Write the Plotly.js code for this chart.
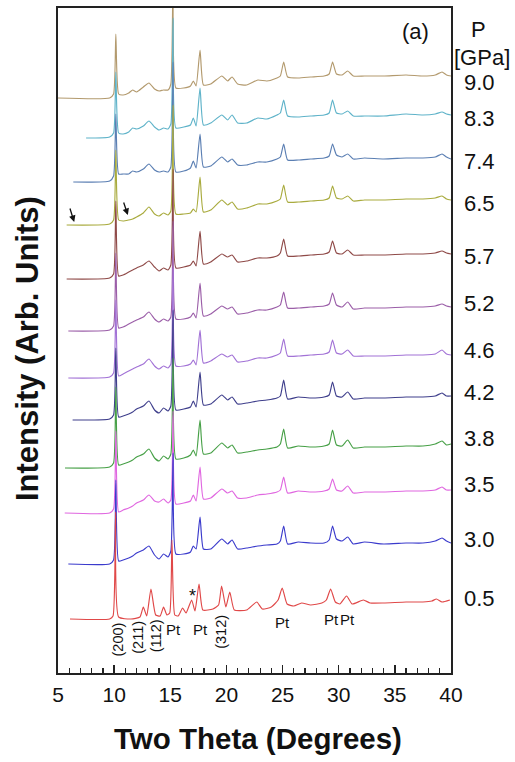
<!DOCTYPE html>
<html>
<head>
<meta charset="utf-8">
<script src="https://cdn.plot.ly/plotly-3.0.1.min.js"></script>
<style>html,body{margin:0;padding:0;background:#fff;}#chart{width:515px;height:762px;}</style>
</head>
<body>
<div id="chart"></div>
<script>
// Shared 2θ grid (degrees) for the high-pressure patterns
const twoTheta = [9.6, 9.95, 10.15, 10.4, 10.8, 11.3, 11.65, 12.0, 12.6, 13.1, 13.6, 14.0, 14.4, 14.8, 15.05, 15.25, 15.5, 16.2, 16.8, 17.05, 17.3, 17.65, 17.95, 18.6, 19.6, 20.1, 20.5, 21.0, 21.8, 22.8, 23.6, 24.5, 24.8, 25.1, 25.45, 26.4, 27.5, 28.7, 29.15, 29.45, 29.8, 30.3, 30.8, 31.3, 32.3, 34.0, 36.0, 37.5, 38.6, 39.2, 39.6, 40.0];

const pressures = ['9.0', '8.3', '7.4', '6.5', '5.7', '5.2', '4.6', '4.2', '3.8', '3.5', '3.0'];
const startAngles = [5.0, 7.5, 6.36, 5.77, 5.77, 5.92, 5.92, 6.3, 5.62, 5.6, 5.92];
const offsets = [575, 535, 491, 448, 394, 342, 295, 253, 205, 160, 109];

const int_9_0 = [0,4,64,4,3,5,8,6,11,15,9,7,8,8,14,130,10,10,12,17,12,48,13,14,22,17,21,14,13,18,17,20,22,36,21,20,21,22,24,36,24,23,27,22,22,22,23,22,23,26,23,22];
const int_8_3 = [1,5,66,5,4,6,10,9,12,17,11,8,10,9,14,120,10,11,13,20,12,50,13,15,23,18,23,15,15,20,19,23,25,38,22,21,22,23,25,38,25,24,27,22,22,22,24,23,24,26,24,23];
const int_7_4 = [1,6,68,8,8,8,11,10,13,18,12,10,11,10,15,120,10,11,14,21,14,48,15,16,25,20,23,17,17,20,20,23,25,38,22,22,23,24,26,38,27,25,28,23,24,23,24,24,25,28,25,23];
const int_6_5 = [1,5,75,5,4,5,6,8,12,18,11,9,12,10,14,120,11,11,12,16,13,48,13,15,25,20,23,16,17,21,21,24,26,40,23,23,24,25,27,39,27,26,29,24,25,25,26,26,27,29,26,25];
const int_5_7 = [1,5,78,3,4,7,9,11,14,18,12,8,11,9,14,110,11,12,14,18,13,48,15,17,25,22,24,17,18,21,21,23,26,40,23,23,24,25,27,38,26,25,29,24,24,24,25,25,26,28,26,25];
const int_5_2 = [1,5,78,3,4,7,9,11,14,19,12,9,12,10,14,110,12,12,14,18,13,48,15,17,25,22,24,17,18,21,21,24,26,39,23,23,24,25,27,38,26,24,29,22,23,23,24,24,25,27,25,24];
const int_4_6 = [1,5,78,2,4,7,9,11,14,19,12,9,12,10,14,110,12,12,14,18,13,48,15,17,24,21,23,16,17,20,20,23,25,39,22,22,23,24,26,38,25,24,28,22,22,22,23,23,24,28,24,23];
const int_4_2 = [1,5,72,3,4,6,8,11,14,19,10,7,12,9,14,110,10,11,13,19,13,48,15,16,25,20,23,16,17,19,20,22,24,40,21,23,22,23,25,38,24,23,28,21,22,22,23,23,24,27,24,24];
const int_3_8 = [1,5,81,3,4,6,8,11,14,19,10,7,12,9,14,110,9,10,13,18,12,48,14,15,25,20,23,15,16,18,19,21,24,39,20,22,21,22,24,38,23,22,28,20,21,21,22,22,24,27,23,24];
const int_3_5 = [0,4,82,1,3,5,7,10,13,18,12,11,14,10,13,102,9,10,12,18,12,46,14,15,24,20,22,15,15,18,19,21,23,36,20,22,21,22,24,34,23,22,27,20,21,21,22,22,23,26,23,23];
const int_3_0 = [0,4,84,3,4,6,8,11,14,18,9,5,10,7,13,111,10,10,12,18,15,47,15,15,25,20,24,15,16,18,19,20,23,38,20,22,21,21,24,38,25,23,27,20,22,20,21,21,23,26,23,21];
const highIntensities = [int_9_0, int_8_3, int_7_4, int_6_5, int_5_7, int_5_2, int_4_6, int_4_2, int_3_8, int_3_5, int_3_0];

// 0.5 GPa pattern (own grid)
const twoTheta_0_5 = [6.07, 9.6, 9.9, 10.13, 10.4, 11.5, 12.3, 12.6, 12.9, 13.28, 13.7, 14.1, 14.4, 14.7, 14.95, 15.15, 15.4, 15.7, 16.1, 16.4, 16.9, 17.2, 17.56, 17.9, 18.8, 19.3, 19.57, 19.95, 20.3, 20.7, 21.8, 22.7, 23.2, 24.0, 24.6, 24.97, 25.4, 26.0, 26.7, 27.5, 28.5, 28.9, 29.28, 29.7, 30.1, 30.7, 31.2, 32.2, 32.8, 34.0, 36.0, 37.5, 38.3, 38.7, 39.2, 39.9];
const int_0_5 = [0, 0, 3, 107, 2, 0, 2, 12, 3, 30, 4, 3, 12, 4, 6, 79, 4, 3, 11, 6, 19, 8, 35, 9, 10, 14, 33, 12, 27, 9, 9, 17, 10, 12, 19, 31, 15, 13, 16, 14, 16, 19, 30, 17, 15, 23, 15, 19, 16, 16, 17, 17, 18, 20, 17, 19];
const pressure_0_5 = '0.5';
const offset_0_5 = 54;

const colors = ['#b39a6e', '#5fb3c9', '#5b7fb3', '#a9ab3e', '#8f4a48', '#9b5ea8', '#a272d6', '#3f3f8c', '#47a047', '#e067e0', '#3b3bcc', '#e04848'];

// Peak annotations
const hklLabels = ['(200)', '(211)', '(112)', '(312)'];
const hklAngles = [10.3, 12.1, 13.75, 19.5];
const ptAngles = [15.3, 17.7, 25.0, 29.4, 30.75];

const FONT = 'Liberation Sans, Arial, Helvetica, sans-serif';

// ---- layout helpers (pixel geometry of the plot frame) ----
const PLOT_TOP = 8, PLOT_H = 665, PLOT_L = 58, PLOT_W = 393;
const py = p => (PLOT_TOP + PLOT_H - p) / PLOT_H;   // pixel row -> paper y
const px = p => (p - PLOT_L) / PLOT_W;              // pixel col -> paper x
// label rows for the pressure column (layout, not data)
const pressureLabelRows = [82, 117, 161, 202, 255, 302, 349, 392, 437, 483, 538, 597];

const traces = [];
const annotations = [];
const allPressures = pressures.concat([pressure_0_5]);

highIntensities.forEach((ints, i) => {
  const x = [startAngles[i]].concat(twoTheta);
  const y = [0].concat(ints).map(v => v + offsets[i]);
  traces.push({x, y, type: 'scatter', mode: 'lines', name: pressures[i] + ' GPa',
    line: {color: colors[i], width: 1.15, shape: 'spline', smoothing: 0.5}, hoverinfo: 'x+name'});
});
traces.push({x: twoTheta_0_5, y: int_0_5.map(v => v + offset_0_5), type: 'scatter', mode: 'lines',
  name: pressure_0_5 + ' GPa', line: {color: colors[11], width: 1.15, shape: 'spline', smoothing: 0.5}, hoverinfo: 'x+name'});

allPressures.forEach((p, i) => {
  annotations.push({xref: 'paper', x: px(479), yref: 'paper', y: py(pressureLabelRows[i]), yshift: -1, text: p,
    showarrow: false, xanchor: 'center', yanchor: 'middle', font: {family: FONT, size: 22, color: '#111'}});
});

annotations.push({xref: 'paper', x: px(478.5), yref: 'paper', y: py(25), yshift: -4, text: 'P', showarrow: false,
  xanchor: 'center', yanchor: 'middle', font: {family: FONT, size: 22, color: '#111'}});
annotations.push({xref: 'paper', x: px(481.5), yref: 'paper', y: py(55), yshift: -2, text: '[GPa]', showarrow: false,
  xanchor: 'center', yanchor: 'middle', font: {family: FONT, size: 22, color: '#111'}});
annotations.push({xref: 'paper', x: px(415), yref: 'paper', y: py(32), text: '(a)', showarrow: false,
  xanchor: 'center', yanchor: 'middle', font: {family: FONT, size: 22, color: '#111'}});

// axis titles
annotations.push({xref: 'paper', x: px(258), yref: 'paper', y: py(738), text: '<b>Two Theta (Degrees)</b>', showarrow: false,
  xanchor: 'center', yanchor: 'middle', font: {family: FONT, size: 29.5, color: '#111'}});
annotations.push({xref: 'paper', x: px(27.5), yref: 'paper', y: py(348.5), text: '<b>Intensity (Arb. Units)</b>', showarrow: false,
  textangle: -90, xanchor: 'center', yanchor: 'middle', font: {family: FONT, size: 31, color: '#111'}});

const hklY = [33, 36, 37, 41];
hklLabels.forEach((t, i) => {
  annotations.push({xref: 'x', x: hklAngles[i], yref: 'y', y: hklY[i], text: t, textangle: -90,
    showarrow: false, xanchor: 'center', yanchor: 'middle', font: {family: FONT, size: 14.5, color: '#111'}});
});
const ptY = [46, 46, 53, 56, 56];
ptAngles.forEach((a, i) => {
  annotations.push({xref: 'x', x: a, yref: 'y', y: ptY[i], yshift: -2, text: 'Pt', showarrow: false,
    xanchor: 'center', yanchor: 'middle', font: {family: FONT, size: 15, color: '#111'}});
});
annotations.push({xref: 'x', x: 17.0, yref: 'y', y: 77, text: '*', showarrow: false,
  xanchor: 'center', yanchor: 'middle', font: {family: FONT, size: 18, color: '#111'}});

// arrows on the 6.5 GPa pattern
annotations.push({xref: 'x', x: startAngles[3] + 0.7, yref: 'y', y: offsets[3] + 2, text: '', showarrow: true,
  arrowhead: 2, arrowsize: 1, arrowwidth: 1.3, arrowcolor: '#111', ax: -5, ay: -16, standoff: 1});
annotations.push({xref: 'x', x: twoTheta[5] - 0.05, yref: 'y', y: offsets[3] + int_6_5[5] + 4, text: '', showarrow: true,
  arrowhead: 2, arrowsize: 1, arrowwidth: 1.3, arrowcolor: '#111', ax: -5, ay: -15, standoff: 1});

const layout = {
  width: 515, height: 762,
  margin: {l: 58, r: 64, t: 8, b: 89},
  paper_bgcolor: '#fff', plot_bgcolor: '#fff',
  showlegend: false,
  font: {family: FONT, color: '#111'},
  xaxis: {
    range: [5, 40], tick0: 5, dtick: 5, ticks: 'inside', ticklen: 8, tickwidth: 1.5, tickcolor: '#222',
    showline: true, linewidth: 2, linecolor: '#222', mirror: true, showgrid: false, zeroline: false,
    tickfont: {family: FONT, size: 21, color: '#111'}, ticklabelstandoff: 2,
    minor: {ticks: 'inside', ticklen: 5, dtick: 1, tickwidth: 1.2, tickcolor: '#222', showgrid: false},
    automargin: false
  },
  yaxis: {
    range: [0, 665], showticklabels: false, ticks: '', showline: true, linewidth: 2, linecolor: '#222',
    mirror: true, showgrid: false, zeroline: false, automargin: false
  },
  annotations
};

Plotly.newPlot('chart', traces, layout, {displayModeBar: false, staticPlot: true});
</script>
</body>
</html>
